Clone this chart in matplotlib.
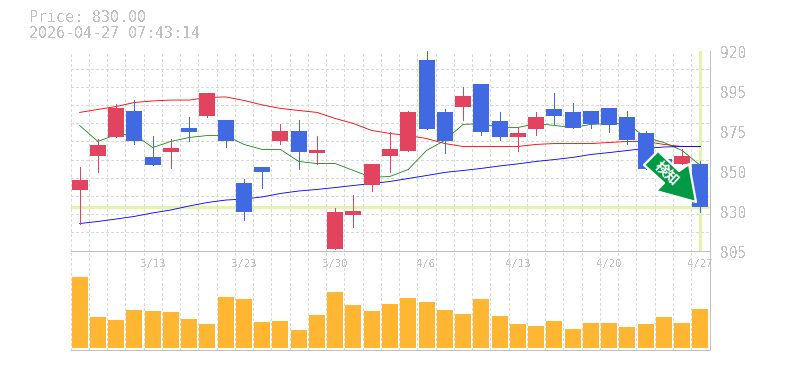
'''Stock candle chart with moving averages and volume

'''

import numpy as np
import matplotlib
matplotlib.use('Agg')
import matplotlib.pyplot as plt
from matplotlib.patches import Polygon
from matplotlib.transforms import IdentityTransform, Affine2D

# ---- data ----
title_price = 'Price: 830.00'
title_time = '2026-04-27 07:43:14'

dates = ['3/9', '3/10', '3/11', '3/12', '3/13', '3/16', '3/17', '3/18', '3/19', '3/23',
         '3/24', '3/25', '3/26', '3/27', '3/30', '3/31', '4/1', '4/2', '4/3', '4/6',
         '4/7', '4/8', '4/9', '4/10', '4/13', '4/14', '4/15', '4/16', '4/17', '4/20',
         '4/21', '4/22', '4/23', '4/24', '4/27']
date_ticks = ['3/13', '3/23', '3/30', '4/6', '4/13', '4/20', '4/27']

opens = [839.8, 859.6, 870.5, 885.5, 859.0, 861.9, 875.2, 882.6, 880.3, 844.1,
         853.3, 867.7, 874.0, 860.8, 805.6, 825.7, 842.9, 859.6, 862.5, 914.3,
         884.4, 887.8, 900.5, 879.2, 870.5, 874.6, 886.1, 884.4, 885.5, 887.2,
         882.0, 872.3, 857.9, 854.5, 855.0]
highs = [853.3, 869.4, 889.5, 891.3, 871.1, 869.4, 881.5, 895.3, 880.3, 846.4,
         853.3, 877.5, 880.3, 871.1, 829.2, 837.2, 855.0, 873.4, 885.5, 920.0,
         886.1, 899.3, 901.0, 884.4, 876.3, 884.4, 895.3, 890.1, 885.5, 887.2,
         885.5, 874.0, 859.1, 863.1, 856.2]
lows = [820.5, 850.4, 870.5, 866.5, 853.9, 852.7, 867.7, 881.5, 864.8, 822.8,
        840.7, 866.0, 851.6, 854.5, 805.6, 818.8, 839.5, 849.9, 862.5, 874.6,
        860.8, 879.8, 871.7, 868.8, 862.5, 871.7, 877.5, 875.7, 875.7, 873.4,
        866.0, 851.6, 849.9, 854.5, 827.4]
closes = [845.3, 865.4, 887.2, 867.7, 853.9, 864.2, 873.4, 895.3, 867.7, 827.4,
          849.9, 874.0, 861.9, 862.5, 827.4, 828.0, 855.0, 863.1, 884.4, 874.6,
          867.7, 894.1, 873.4, 870.0, 872.3, 881.5, 882.6, 875.7, 877.5, 876.9,
          868.8, 851.6, 851.0, 859.1, 830.0]

ma_red = [884.4, 886.1, 887.8, 890.1, 891.0, 891.5, 891.5, 893.0, 893.3, 891.3,
          888.7, 886.7, 885.5, 884.4, 880.9, 878.0, 874.0, 872.3, 871.1, 869.4,
          866.5, 864.8, 864.8, 864.8, 864.8, 866.0, 866.5, 866.5, 866.5, 867.1,
          867.7, 867.7, 866.0, 864.8, 864.8]
ma_green = [876.9, 867.7, 871.7, 871.7, 864.2, 867.7, 870.0, 871.1, 871.1, 866.0,
            863.1, 863.1, 856.2, 855.0, 855.0, 851.0, 847.0, 847.6, 851.6, 862.5,
            868.3, 877.5, 878.0, 875.7, 875.7, 878.0, 876.9, 875.7, 877.5, 878.0,
            878.0, 870.0, 867.1, 862.5, 853.9]
ma_blue = [820.5, 821.7, 823.1, 824.6, 826.6, 828.3, 830.6, 832.6, 834.0, 834.6,
           835.8, 837.8, 839.2, 840.1, 841.2, 842.4, 843.5, 844.7, 846.4, 848.1,
           849.9, 851.0, 852.2, 853.6, 854.8, 856.2, 857.3, 858.5, 860.2, 861.3,
           862.5, 863.7, 864.5, 864.8, 864.8]

volume = [71, 31, 28, 38, 37, 36, 29, 24, 51, 49,
          26, 27, 18, 33, 56, 43, 37, 44, 50, 46,
          38, 34, 49, 32, 24, 22, 27, 19, 25, 25,
          21, 24, 31, 25, 39]

price_ticks = [920, 897, 874, 851, 828, 805]
price_labels = ['920', '895', '875', '850', '830', '805']

# ---- style ----
W, H = 785, 370
GRAY = '#c0c0c0'
GRID = '#d9d9d9'
UP = '#e2435f'
DOWN = '#4169e1'
VOL = '#ffb733'
MARK = '#e2f5a8'
ARROW = '#009a44'
PX = 0.72  # one pixel in points
DASH = (0, (2.9, 2.9))

plt.rcParams['font.family'] = ['DejaVu Sans Mono']
plt.rcParams['text.antialiased'] = False

fig = plt.figure(figsize=(W / 100, H / 100), dpi=100, facecolor='white')
ax = fig.add_axes([70.5 / W, (H - 250.5) / H, 639 / W, 200 / H])
ax_v = fig.add_axes([70.5 / W, (H - 349.5) / H, 639 / W, 99 / H], facecolor='none')

x = np.arange(len(dates)) + 0.5
opens, closes = np.array(opens), np.array(closes)
up = closes >= opens
colors = [UP if u else DOWN for u in up]
bar_w = 16 / 18.26

# price panel
ax.set_xlim(0, len(dates))
ax.set_ylim(805, 920)
ax.axhline(830, color=MARK, lw=3 * PX, zorder=1.5, antialiased=False)
ax.axvline(x[-1], ymax=0.995, color=MARK, lw=3 * PX, zorder=1.5, antialiased=False)
ax.plot(x, ma_red, color='#ff0000', lw=0.62, zorder=2)
ax.plot(x, ma_green, color='#008000', lw=0.55, zorder=2)
ax.plot(x, ma_blue, color='#0000ff', lw=0.62, zorder=2)
ax.vlines(x, lows, highs, colors=colors, lw=PX, zorder=3, antialiased=False)
ax.bar(x, np.abs(closes - opens), width=bar_w, bottom=np.minimum(opens, closes),
       color=colors, zorder=4, antialiased=False)

ax.set_xticks(np.arange(len(dates) + 1), minor=True)
ax.set_yticks(np.linspace(805, 920, 12), minor=True)
ax.grid(True, which='minor', color=GRID, lw=PX, ls=DASH, antialiased=False, zorder=0, clip_on=False)
ax.tick_params(which='minor', length=0)

ax.set_xticks([x[dates.index(d)] for d in date_ticks])
ax.set_xticklabels(date_ticks, fontsize=7.6, color=GRAY)
ax.yaxis.tick_right()
ax.set_yticks(price_ticks)
ax.set_yticklabels(price_labels, fontsize=10.5, color=GRAY, va='center')
ax.tick_params(axis='x', which='major', length=0, pad=6)
ax.tick_params(axis='y', which='major', length=0, pad=7.5)
for lbl in ax.get_yticklabels():
    lbl.set_transform(lbl.get_transform() + Affine2D().translate(0, -3))

for s in ['top', 'left']:
    ax.spines[s].set_visible(False)
for s in ['bottom', 'right']:
    ax.spines[s].set_color(GRAY)
    ax.spines[s].set_linewidth(PX)

# volume panel
ax_v.set_xlim(0, len(dates))
ax_v.set_ylim(-1.5, 97.5)
ax_v.bar(x, volume, width=bar_w, color=VOL, zorder=3, antialiased=False)
ax_v.set_xticks(np.arange(len(dates) + 1))
ax_v.set_yticks([])
ax_v.set_xticklabels([])
ax_v.tick_params(length=0)
ax_v.grid(True, axis='x', color=GRID, lw=PX, ls=DASH, antialiased=False, zorder=0)
for s in ['top', 'left']:
    ax_v.spines[s].set_visible(False)
for s in ['bottom', 'right']:
    ax_v.spines[s].set_color(GRAY)
    ax_v.spines[s].set_linewidth(PX)

# signal arrow icon, pixel offsets from the image top left
arrow_px = np.array([[644, 165], [658, 151], [679, 171], [689, 164], [696, 202],
                     [656, 191], [664, 183]], dtype=float)
arrow_px[:, 1] = H - arrow_px[:, 1]
fig.add_artist(Polygon(arrow_px, closed=True, facecolor=ARROW, edgecolor='white', lw=1.6,
                       joinstyle='round', transform=IdentityTransform(), zorder=10))
fig.text(666.5 / W, (H - 174) / H, '検知', color='white', fontsize=10, fontweight='bold',
         family=['Noto Sans CJK JP', 'DejaVu Sans'], rotation=-43, ha='center', va='center',
         rotation_mode='anchor', antialiased=True, zorder=11)

# header
fig.text(29 / W, (H - 18) / H, title_price, color=GRAY, fontsize=10.8, va='center')
fig.text(29 / W, (H - 33) / H, title_time, color=GRAY, fontsize=10.8, va='center')

fig.savefig('out.png', dpi=100, facecolor='white')
